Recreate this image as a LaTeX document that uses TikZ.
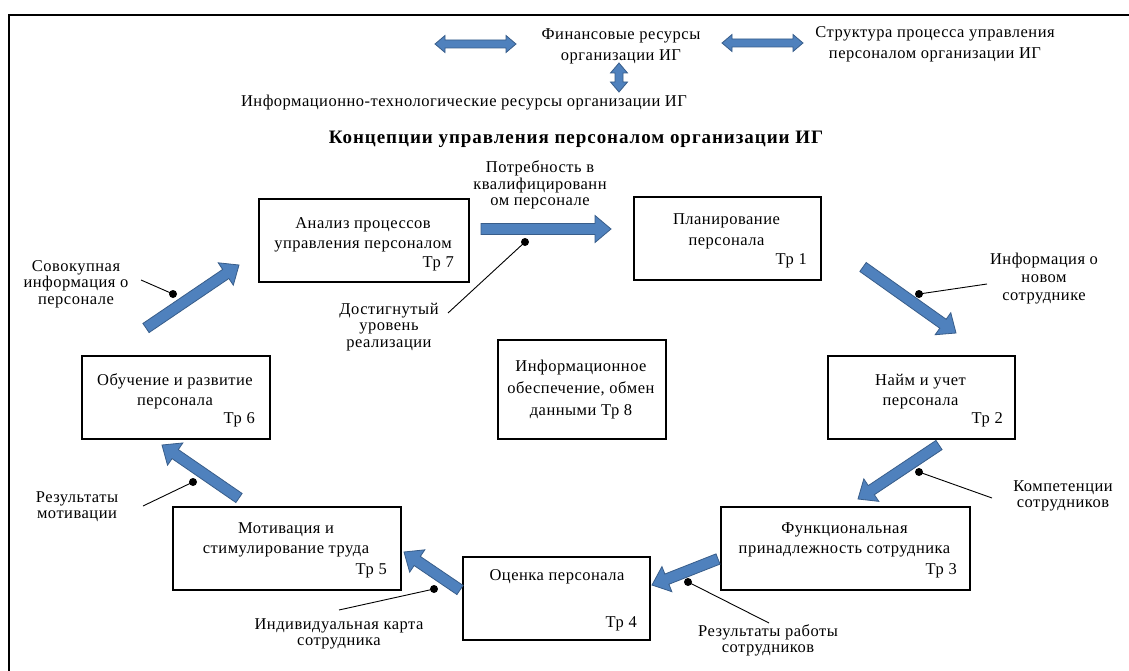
\documentclass[tikz,border=0pt]{standalone}
\usepackage{fontspec}
\setmainfont{Liberation Serif}[LetterSpace=3]
\usetikzlibrary{calc}
\definecolor{afill}{HTML}{4F81BD}
\definecolor{adraw}{HTML}{385D8A}
\tikzset{
  box/.style={draw=black, line width=2.2pt, fill=white, inner sep=0, anchor=north west},
  txt/.style={font=\fontsize{16.5}{20.5}\selectfont, align=center, inner sep=0},
  ctxt/.style={font=\fontsize{16.5}{16.5}\selectfont, align=center, inner sep=0},
  trtxt/.style={font=\fontsize{16.5}{20}\selectfont, inner sep=0, anchor=east},
  barrow/.style={fill=afill, draw=adraw, line width=0.8pt, line join=miter},
  callout/.style={draw=black, line width=0.9pt},
  dotc/.style={fill=black, circle, inner sep=0, minimum size=8pt},
  frame/.style={draw=black, line width=2pt}
}
% block arrow: tail, tip, shaft half width, head half width, head length
\newcommand{\blockarr}[5]{%
  \path ($(#2)!#5!(#1)$) coordinate (hh);
  \filldraw[barrow] ($(#1)!#3!90:(#2)$) -- ($(hh)!#3!90:(#2)$) -- ($(hh)!#4!90:(#2)$) -- (#2)
    -- ($(hh)!#4!-90:(#2)$) -- ($(hh)!#3!-90:(#2)$) -- ($(#1)!#3!-90:(#2)$) -- cycle;}
% double block arrow: tip A, tip B, shaft half width, head half width, head length
\newcommand{\dblarr}[5]{%
  \path ($(#1)!#5!(#2)$) coordinate (ha) ($(#2)!#5!(#1)$) coordinate (hb);
  \filldraw[barrow] (#1) -- ($(ha)!#4!90:(#2)$) -- ($(ha)!#3!90:(#2)$) -- ($(hb)!#3!-90:(#1)$)
    -- ($(hb)!#4!-90:(#1)$) -- (#2) -- ($(hb)!#4!90:(#1)$) -- ($(hb)!#3!90:(#1)$)
    -- ($(ha)!#3!-90:(#2)$) -- ($(ha)!#4!-90:(#2)$) -- cycle;}
\begin{document}
\begin{tikzpicture}[x=1pt, y=-1pt]
\useasboundingbox (0,0) rectangle (1129,671);
\fill[white] (0,0) rectangle (1129,671);
\draw[frame] (9,672) -- (9,15) -- (1130,15);

% top part
\node[txt] (fin) at (621,46.5) {Финансовые ресурсы\\организации ИГ};
\node[txt] (str) at (935,44.5) {Структура процесса управления\\персоналом организации ИГ};
\node[txt] (itr) at (464,103) {Информационно-технологические ресурсы организации ИГ};
\node[txt, font=\fontsize{19}{20}\selectfont\bfseries\addfontfeature{LetterSpace=5}] (title) at (576,139) {Концепции управления персоналом организации ИГ};
\coordinate (d1a) at (435,44); \coordinate (d1b) at (516,44);
\coordinate (d2a) at (722,43); \coordinate (d2b) at (803,43);
\coordinate (d3a) at (619,63); \coordinate (d3b) at (619,92);
\dblarr{d1a}{d1b}{4pt}{8.5pt}{10pt}
\dblarr{d2a}{d2b}{4pt}{8.5pt}{10pt}
\dblarr{d3a}{d3b}{4pt}{8.5pt}{10pt}

% boxes
\node[box, minimum width=210, minimum height=83] (t7) at (258,198) {};
\node[txt] at (363,235) {Анализ процессов\\управления персоналом};
\node[trtxt] at (454,264) {Тр 7};

\node[box, minimum width=187, minimum height=83] (t1) at (633,196) {};
\node[txt] at (726.5,231.5) {Планирование\\персонала};
\node[trtxt] at (807,261) {Тр 1};

\node[box, minimum width=187, minimum height=83] (t2) at (827,355) {};
\node[txt] at (920.5,391.5) {Найм и учет\\персонала};
\node[trtxt] at (1003,420) {Тр 2};

\node[box, minimum width=249, minimum height=83] (t3) at (720,506) {};
\node[txt] at (844.5,540) {Функциональная\\принадлежность сотрудника};
\node[trtxt] at (957,571) {Тр 3};

\node[box, minimum width=187, minimum height=83] (t4) at (462,556) {};
\node[txt] at (557,577) {Оценка персонала};
\node[trtxt] at (637,624) {Тр 4};

\node[box, minimum width=228, minimum height=83] (t5) at (172,506) {};
\node[txt] at (286,540) {Мотивация и\\стимулирование труда};
\node[trtxt] at (387,571) {Тр 5};

\node[box, minimum width=188, minimum height=83] (t6) at (81,355) {};
\node[txt] at (175,391.5) {Обучение и развитие\\персонала};
\node[trtxt] at (255,420) {Тр 6};

\node[box, minimum width=168, minimum height=99] (t8) at (497,339) {};
\node[txt, font=\fontsize{16.5}{22}\selectfont] at (581,390) {Информационное\\обеспечение, обмен\\данными Тр 8};

% block arrows between boxes
\coordinate (a71) at (481,229); \coordinate (b71) at (611,229);
\coordinate (a12) at (863,267); \coordinate (b12) at (956,333);
\coordinate (a23) at (939,445); \coordinate (b23) at (858,499);
\coordinate (a34) at (718,559); \coordinate (b34) at (652,585);
\coordinate (a45) at (460,590); \coordinate (b45) at (404,552);
\coordinate (a56) at (239,498); \coordinate (b56) at (162,445);
\coordinate (a67) at (146,328); \coordinate (b67) at (239,265);
\blockarr{a71}{b71}{5.5pt}{13.5pt}{16pt}
\blockarr{a12}{b12}{5.5pt}{13.5pt}{16pt}
\blockarr{a23}{b23}{5.5pt}{13.5pt}{16pt}
\blockarr{a34}{b34}{5.5pt}{13.5pt}{16pt}
\blockarr{a45}{b45}{5.5pt}{13.5pt}{16pt}
\blockarr{a56}{b56}{5.5pt}{13.5pt}{16pt}
\blockarr{a67}{b67}{5.5pt}{13.5pt}{16pt}

% callouts
\node[ctxt] (c1) at (76,284) {Совокупная\\информация о\\персонале};
\node[ctxt] (c2) at (389,327) {Достигнутый\\уровень\\реализации};
\node[ctxt] (c3) at (540,185) {Потребность в\\квалифицированн\\ом персонале};
\node[ctxt, font=\fontsize{16.5}{18}\selectfont] (c4) at (1044,279) {Информация о\\новом\\сотруднике};
\node[ctxt] (c5) at (1063,496) {Компетенции\\сотрудников};
\node[ctxt] (c6) at (768,640.5) {Результаты работы\\сотрудников};
\node[ctxt] (c7) at (339,634) {Индивидуальная карта\\сотрудника};
\node[ctxt] (c8) at (77,506.5) {Результаты\\мотивации};

\node[dotc] (p1) at (173,294) {}; \coordinate (q1) at (141,280);
\node[dotc] (p2) at (525,242) {}; \coordinate (q2) at (448,313);
\node[dotc] (p4) at (919,294) {}; \coordinate (q4) at (987,284);
\node[dotc] (p5) at (919,472) {}; \coordinate (q5) at (992,498);
\node[dotc] (p6) at (688,582) {}; \coordinate (q6) at (769,623);
\node[dotc] (p7) at (434,589) {}; \coordinate (q7) at (339,610);
\node[dotc] (p8) at (193,482) {}; \coordinate (q8) at (143,506);
\foreach \i in {1,2,4,5,6,7,8} \draw[callout] (p\i.center) -- (q\i);
\end{tikzpicture}
\end{document}
